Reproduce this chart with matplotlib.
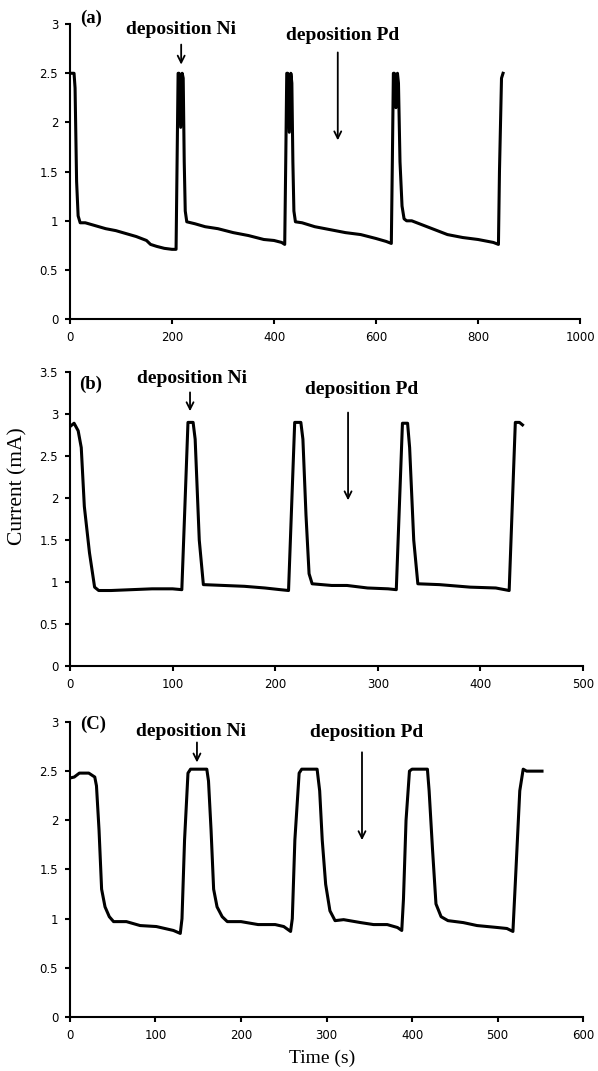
import matplotlib
matplotlib.use('Agg')
import matplotlib.pyplot as plt
from matplotlib.ticker import FormatStrFormatter

# panel (a)
time_a = [0, 8, 10, 13, 16, 20, 30, 50, 70, 90, 110, 130, 150, 158, 170, 185, 200, 208,
          210, 212, 214, 217, 220, 222, 224, 226, 229, 245, 265, 290, 320, 350, 380, 400, 415, 421,
          423, 425, 427, 430, 433, 435, 437, 439, 442, 455, 480, 510, 540, 570, 600, 620, 630,
          632, 634, 636, 639, 642, 644, 647, 651, 655, 660, 670, 690, 710, 740, 770, 800, 830, 840,
          842, 846, 849]
current_a = [2.5, 2.5, 2.35, 1.4, 1.05, 0.98, 0.98, 0.95, 0.92, 0.9, 0.87, 0.84, 0.8, 0.76, 0.74, 0.72, 0.71, 0.71,
             1.6, 2.5, 2.5, 1.95, 2.5, 2.45, 1.6, 1.1, 0.99, 0.97, 0.94, 0.92, 0.88, 0.85, 0.81, 0.8, 0.78, 0.76,
             1.6, 2.5, 2.5, 1.9, 2.5, 2.4, 1.6, 1.1, 0.99, 0.98, 0.94, 0.91, 0.88, 0.86, 0.82, 0.79, 0.77,
             1.6, 2.5, 2.5, 2.15, 2.5, 2.4, 1.6, 1.15, 1.02, 1.0, 1.0, 0.96, 0.92, 0.86, 0.83, 0.81, 0.78, 0.76,
             1.5, 2.45, 2.5]

# panel (b)
time_b = [0, 4, 8, 11, 14, 19, 24, 28, 40, 60, 80, 100, 109, 112, 115, 120, 122, 126, 130,
          150, 170, 190, 205, 213, 216, 219, 225, 227, 230, 233, 236, 255, 270, 290, 310, 318,
          321, 324, 329, 331, 335, 339, 360, 390, 415, 428, 431, 434, 438, 441]
current_b = [2.85, 2.89, 2.8, 2.6, 1.9, 1.35, 0.94, 0.9, 0.9, 0.91, 0.92, 0.92, 0.91, 1.9, 2.9, 2.9, 2.7, 1.5, 0.97,
             0.96, 0.95, 0.93, 0.91, 0.9, 1.9, 2.9, 2.9, 2.7, 1.8, 1.1, 0.98, 0.96, 0.96, 0.93, 0.92, 0.91,
             1.9, 2.89, 2.89, 2.6, 1.5, 0.98, 0.97, 0.94, 0.93, 0.9, 1.9, 2.9, 2.9, 2.87]

# panel (C)
time_c = [0, 5, 11, 22, 29, 31, 34, 37, 41, 46, 51, 60, 66, 82, 101, 121, 129,
          131, 134, 138, 141, 160, 162, 165, 168, 172, 178, 184, 200, 220, 240, 250, 258,
          260, 263, 268, 271, 289, 292, 295, 299, 304, 310, 320, 340, 355, 371, 383, 388,
          390, 393, 397, 400, 418, 420, 424, 428, 434, 442, 460, 476, 500, 511, 518,
          521, 526, 530, 534, 552]
current_c = [2.43, 2.44, 2.48, 2.48, 2.44, 2.35, 1.9, 1.3, 1.12, 1.02, 0.97, 0.97, 0.97, 0.93, 0.92, 0.88, 0.85,
             1.0, 1.8, 2.48, 2.52, 2.52, 2.4, 1.9, 1.3, 1.12, 1.02, 0.97, 0.97, 0.94, 0.94, 0.92, 0.87,
             1.0, 1.8, 2.48, 2.52, 2.52, 2.3, 1.8, 1.35, 1.08, 0.98, 0.99, 0.96, 0.94, 0.94, 0.91, 0.88,
             1.2, 2.0, 2.5, 2.52, 2.52, 2.3, 1.7, 1.15, 1.02, 0.98, 0.96, 0.93, 0.91, 0.9, 0.87,
             1.4, 2.3, 2.52, 2.5, 2.5]

panels = [
    dict(t=time_a, i=current_a, rect=[0.117, 0.702, 0.853, 0.2755], xmax=1000, xstep=200, ymax=3.0,
         tag='(a)', tag_xy=(41, 3.06), ni_xy=(218, 2.94), ni_arrow=(218, 2.82, 2.56),
         pd_xy=(535, 2.88), pd_arrow=(525, 2.74, 1.79)),
    dict(t=time_b, i=current_b, rect=[0.117, 0.378, 0.858, 0.2747], xmax=500, xstep=100, ymax=3.5,
         tag='(b)', tag_xy=(20.5, 3.35), ni_xy=(119, 3.42), ni_arrow=(117, 3.29, 3.0),
         pd_xy=(284, 3.29), pd_arrow=(271, 3.05, 1.94)),
    dict(t=time_c, i=current_c, rect=[0.117, 0.0504, 0.858, 0.2755], xmax=600, xstep=100, ymax=3.0,
         tag='(C)', tag_xy=(27, 2.98), ni_xy=(141.5, 2.90), ni_arrow=(148.5, 2.82, 2.56),
         pd_xy=(347, 2.89), pd_arrow=(341.5, 2.72, 1.77)),
]

fig = plt.figure(figsize=(5.98, 10.71), dpi=100)
serif = 'Liberation Serif'

for p in panels:
    ax = fig.add_axes(p['rect'])
    ax.plot(p['t'], p['i'], color='black', lw=2.2, solid_joinstyle='round')
    ax.set_xlim(0, p['xmax'])
    ax.set_ylim(0, p['ymax'])
    ax.set_xticks(range(0, p['xmax'] + 1, p['xstep']))
    yt = [k * 0.5 for k in range(int(p['ymax'] / 0.5) + 1)]
    ax.set_yticks(yt)
    ax.yaxis.set_major_formatter(FormatStrFormatter('%g'))
    for s in ['top', 'right']:
        ax.spines[s].set_visible(False)
    for s in ['left', 'bottom']:
        ax.spines[s].set_linewidth(1.5)
    ax.tick_params(direction='out', length=3.5, width=1.5, labelsize=8.5, pad=5)

    ax.text(*p['tag_xy'], p['tag'], family=serif, weight='bold', fontsize=13.5, ha='center', va='center')
    ax.text(*p['ni_xy'], 'deposition Ni', family=serif, weight='bold', fontsize=14, ha='center', va='center')
    ax.text(*p['pd_xy'], 'deposition Pd', family=serif, weight='bold', fontsize=14, ha='center', va='center')
    for x, y0, y1 in [p['ni_arrow'], p['pd_arrow']]:
        ax.annotate('', xy=(x, y1), xytext=(x, y0),
                    arrowprops=dict(arrowstyle='->,head_length=0.5,head_width=0.25', lw=1.3, color='black'))

fig.text(0.03, 0.546, 'Current (mA)', family=serif, fontsize=15.5, rotation=90, ha='center', va='center')
fig.text(0.538, 0.012, 'Time (s)', family=serif, fontsize=14, ha='center', va='center')

fig.savefig('out.png', dpi=100)
